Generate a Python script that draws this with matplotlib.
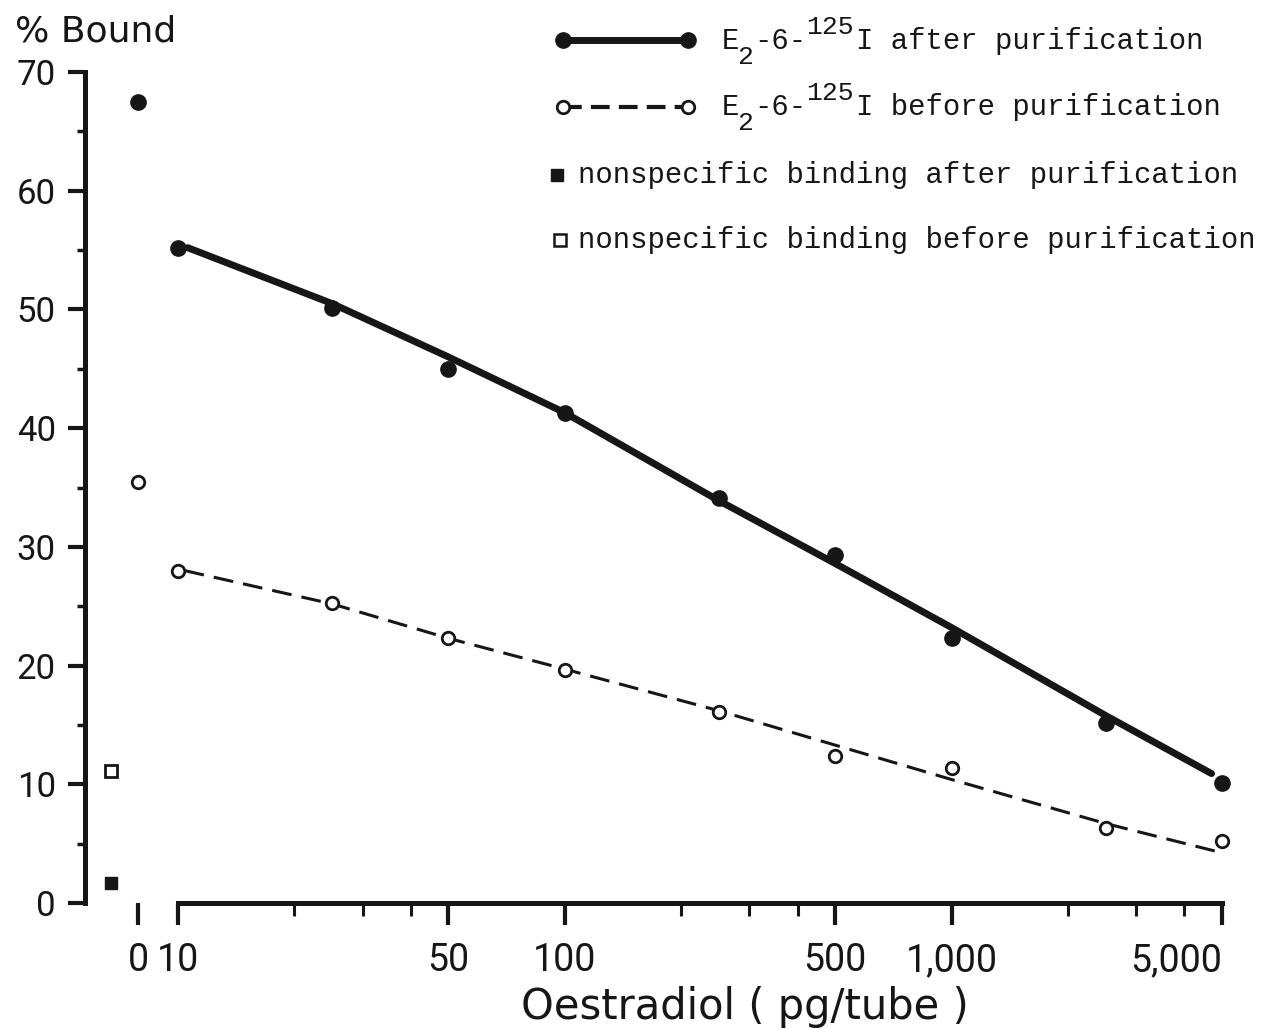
import matplotlib.pyplot as plt
from matplotlib.lines import Line2D
from matplotlib.ticker import NullFormatter

# Oestradiol standard curve, % bound
conc = [10, 25, 50, 100, 250, 500, 1000, 2500, 5000]
after_pts = [55.2, 50.1, 45.0, 41.3, 34.1, 29.3, 22.3, 15.2, 10.1]
before_pts = [28.0, 25.3, 22.3, 19.6, 16.1, 12.4, 11.4, 6.3, 5.2]

# hand-drawn fitted curves
after_fit_conc = [10.6, 18, 25, 50, 100, 250, 500, 1000, 2500, 4700]
after_fit = [55.2, 52.3, 50.5, 46.0, 41.3, 33.9, 28.6, 23.2, 15.8, 10.9]
before_fit_conc = [10.4, 25, 50, 100, 250, 500, 1000, 2500, 4900]
before_fit = [28.0, 25.2, 22.3, 19.7, 16.2, 13.3, 10.4, 6.7, 4.3]

# zero standard and nonspecific binding tubes
zero_after = 67.5
zero_before = 35.5
nsb_after = 1.7
nsb_before = 11.1

xticks = [10, 50, 100, 500, 1000, 5000]
xticklabels = ['10', '50', '100', '500', '1,000', '5,000']
xminor = [20, 30, 40, 200, 300, 400, 2000, 3000, 4000]

# the zero tube and the NSB tubes are drawn left of the log axis
x_zero = 7.9
x_nsb = 6.7

K = '#161616'
W, H = 1261, 1029

plt.rcParams['font.family'] = ['Roboto', 'DejaVu Sans']

fig = plt.figure(figsize=(W / 100, H / 100), dpi=100)
ax = fig.add_axes([85 / W, (H - 903) / H, (1240 - 85) / W, (903 - 72) / H])

ax.set_xscale('log')
ax.set_xlim(5.75, 5567)
ax.set_ylim(0, 70)

ax.plot(after_fit_conc, after_fit, color=K, lw=5, solid_capstyle='round',
        solid_joinstyle='round', zorder=2)
ax.plot(before_fit_conc, before_fit, color=K, lw=2.2, ls=(0, (6.5, 3.3)), zorder=2)

ax.plot(conc, after_pts, 'o', ms=11, color=K, zorder=3, clip_on=False)
ax.plot(conc, before_pts, 'o', ms=9, mfc='white', mec=K, mew=2, zorder=3, clip_on=False)
ax.plot([x_zero], [zero_after], 'o', ms=11, color=K, clip_on=False)
ax.plot([x_zero], [zero_before], 'o', ms=9, mfc='white', mec=K, mew=2, clip_on=False)
ax.plot([x_nsb], [nsb_before], 's', ms=9, mfc='white', mec=K, mew=2, clip_on=False)
ax.plot([x_nsb], [nsb_after], 's', ms=9, color=K, clip_on=False)

for s in ['top', 'right']:
    ax.spines[s].set_visible(False)
ax.spines['left'].set_bounds(0, 70)
ax.spines['bottom'].set_bounds(10, 5000)
for s in ['left', 'bottom']:
    ax.spines[s].set_linewidth(3.6)
    ax.spines[s].set_color(K)

ax.set_yticks(range(0, 71, 10))
ax.set_yticks(range(5, 70, 10), minor=True)
ax.set_xticks([x_zero] + xticks, ['0'] + xticklabels)
ax.set_xticks(xminor, minor=True)
ax.xaxis.set_minor_formatter(NullFormatter())
ax.get_xticklabels()[-1].set_ha('right')

ax.tick_params(axis='y', which='major', direction='out', length=12, width=3,
               pad=9, labelsize=25, color=K, labelcolor=K)
ax.tick_params(axis='y', which='minor', direction='out', length=6, width=2.5, color=K)
ax.tick_params(axis='x', which='major', direction='out', length=16, width=3,
               pad=12, labelsize=27, color=K, labelcolor=K)
ax.tick_params(axis='x', which='minor', direction='out', length=9.5, width=2.2, color=K)

ax.set_xlabel('Oestradiol ( pg/tube )', fontsize=30, family='DejaVu Sans', color=K)
ax.xaxis.set_label_coords(0.571, -0.100)
fig.text(15 / W, 1 - 32 / H, '% Bound', fontsize=26, family='DejaVu Sans',
         color=K, ha='left', va='center')


# legend, typed by hand in the upper right
def fx(px):
    return px / W


def fy(py):
    return 1 - py / H


def typed(x, y, s, size=20.8):
    fig.text(fx(x), fy(y), s, fontsize=size, family='Liberation Mono', color=K,
             ha='left', va='baseline')


fig.add_artist(Line2D([fx(563), fx(688)], [fy(40), fy(40)], color=K, lw=5,
                      marker='o', ms=11))
fig.add_artist(Line2D([fx(563), fx(688)], [fy(107), fy(107)], color=K, lw=3,
                      ls=(0, (4.5, 2.2)), marker='o', ms=9, mfc='white', mew=2))
fig.add_artist(Line2D([fx(557)], [fy(175)], color=K, marker='s', ms=8, ls='none'))
fig.add_artist(Line2D([fx(560)], [fy(240)], color=K, marker='s', ms=8, ls='none',
                      mfc='white', mew=1.8))

for base, tail in [(49, 'I after purification'), (115, 'I before purification')]:
    typed(722, base, 'E')
    typed(737, base + 15, '2', 19)
    typed(754, base, '-6-')
    typed(806, base - 15, '125', 19)
    typed(856, base, tail)
typed(578, 183, 'nonspecific binding after purification')
typed(578, 248, 'nonspecific binding before purification')

fig.savefig('out.png', dpi=100)
